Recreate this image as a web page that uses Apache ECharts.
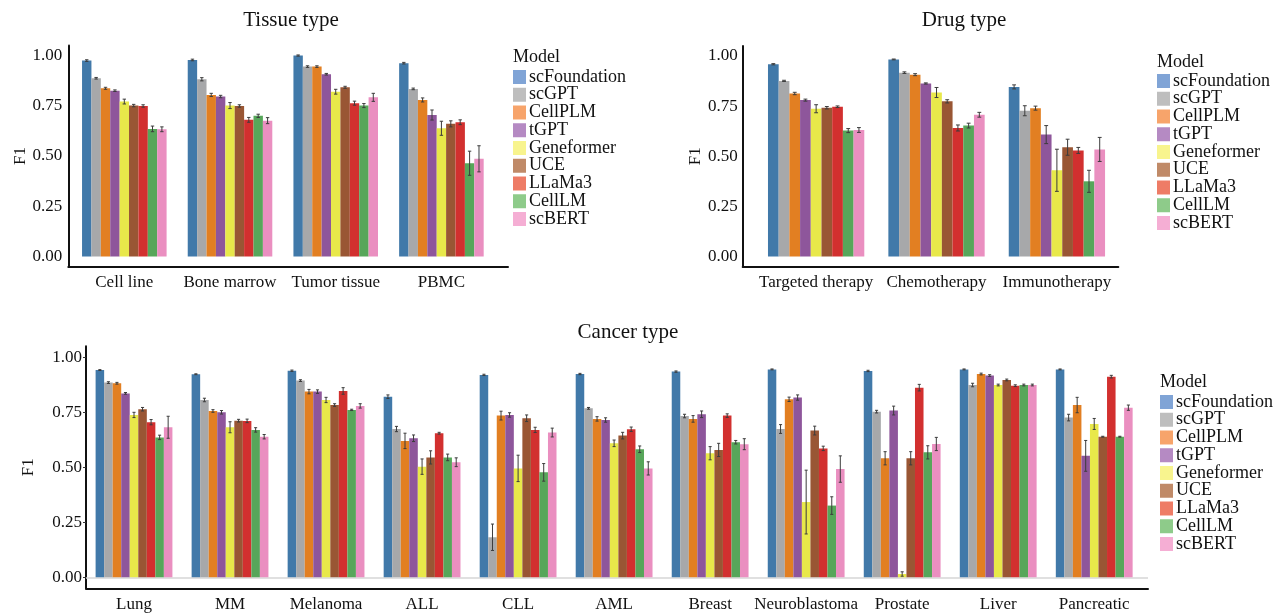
<!DOCTYPE html>
<html>
<head>
<meta charset="utf-8">
<script src="https://cdn.jsdelivr.net/npm/echarts@6/dist/echarts.min.js"></script>
<style>
html,body{margin:0;padding:0;background:#fff;}
#chart{width:1284px;height:616px;}
</style>
</head>
<body>
<div id="chart"></div>
<script>
// ---------- DATA ----------
const models = ['scFoundation','scGPT','CellPLM','tGPT','Geneformer','UCE','LLaMa3','CellLM','scBERT'];

const tissueCats = ['Cell line','Bone marrow','Tumor tissue','PBMC'];
const tissueF1 = [
  [0.975, 0.978, 1.000, 0.962],
  [0.887, 0.882, 0.945, 0.834],
  [0.837, 0.804, 0.945, 0.779],
  [0.825, 0.796, 0.907, 0.704],
  [0.771, 0.751, 0.820, 0.638],
  [0.751, 0.749, 0.842, 0.660],
  [0.749, 0.680, 0.763, 0.668],
  [0.635, 0.700, 0.751, 0.464],
  [0.633, 0.676, 0.792, 0.486]
];
const tissueSD = [
  [0.004, 0.004, 0.003, 0.004],
  [0.004, 0.008, 0.004, 0.004],
  [0.005, 0.008, 0.004, 0.010],
  [0.004, 0.006, 0.004, 0.025],
  [0.012, 0.015, 0.012, 0.035],
  [0.006, 0.006, 0.005, 0.015],
  [0.006, 0.012, 0.010, 0.012],
  [0.014, 0.008, 0.010, 0.060],
  [0.012, 0.015, 0.020, 0.065]
];

const drugCats = ['Targeted therapy','Chemotherapy','Immunotherapy'];
const drugF1 = [
  [0.959, 0.983, 0.846],
  [0.876, 0.917, 0.727],
  [0.813, 0.907, 0.740],
  [0.780, 0.863, 0.608],
  [0.737, 0.818, 0.430],
  [0.742, 0.774, 0.545],
  [0.747, 0.641, 0.529],
  [0.628, 0.653, 0.375],
  [0.631, 0.707, 0.534]
];
const drugSD = [
  [0.003, 0.002, 0.010],
  [0.003, 0.004, 0.025],
  [0.006, 0.005, 0.010],
  [0.005, 0.003, 0.045],
  [0.020, 0.025, 0.105],
  [0.006, 0.008, 0.040],
  [0.004, 0.015, 0.015],
  [0.010, 0.012, 0.055],
  [0.012, 0.012, 0.060]
];

const cancerCats = ['Lung','MM','Melanoma','ALL','CLL','AML','Breast','Neuroblastoma','Prostate','Liver','Pancreatic'];
const cancerF1 = [
  [0.942, 0.923, 0.939, 0.821, 0.920, 0.924, 0.935, 0.945, 0.938, 0.945, 0.945],
  [0.885, 0.806, 0.894, 0.674, 0.182, 0.768, 0.733, 0.674, 0.753, 0.874, 0.726],
  [0.882, 0.756, 0.844, 0.620, 0.735, 0.720, 0.720, 0.809, 0.541, 0.924, 0.783],
  [0.836, 0.750, 0.844, 0.632, 0.738, 0.715, 0.741, 0.817, 0.758, 0.917, 0.552],
  [0.738, 0.682, 0.806, 0.503, 0.495, 0.609, 0.564, 0.342, 0.015, 0.874, 0.697],
  [0.764, 0.712, 0.783, 0.545, 0.723, 0.644, 0.579, 0.667, 0.541, 0.897, 0.639],
  [0.705, 0.711, 0.847, 0.655, 0.670, 0.673, 0.735, 0.586, 0.862, 0.871, 0.912],
  [0.636, 0.670, 0.761, 0.545, 0.477, 0.582, 0.614, 0.326, 0.568, 0.874, 0.639],
  [0.682, 0.639, 0.779, 0.523, 0.658, 0.495, 0.605, 0.492, 0.606, 0.874, 0.771]
];
const cancerSD = [
  [0.002, 0.002, 0.003, 0.008, 0.003, 0.003, 0.003, 0.002, 0.003, 0.002, 0.002],
  [0.004, 0.008, 0.004, 0.012, 0.060, 0.004, 0.008, 0.020, 0.006, 0.008, 0.015],
  [0.004, 0.006, 0.010, 0.035, 0.020, 0.010, 0.015, 0.010, 0.030, 0.004, 0.035],
  [0.004, 0.008, 0.008, 0.015, 0.010, 0.010, 0.015, 0.012, 0.020, 0.004, 0.070],
  [0.012, 0.025, 0.012, 0.035, 0.060, 0.015, 0.030, 0.145, 0.010, 0.004, 0.025],
  [0.008, 0.006, 0.006, 0.030, 0.015, 0.015, 0.030, 0.020, 0.030, 0.004, 0.002],
  [0.012, 0.008, 0.015, 0.004, 0.012, 0.010, 0.008, 0.010, 0.015, 0.004, 0.006],
  [0.010, 0.010, 0.003, 0.015, 0.040, 0.015, 0.008, 0.040, 0.030, 0.004, 0.002],
  [0.050, 0.010, 0.010, 0.020, 0.020, 0.030, 0.025, 0.060, 0.030, 0.004, 0.012]
];

const yTicks = [0, 0.25, 0.5, 0.75, 1.0];

// ---------- STYLE ----------
const FONT = 'Liberation Serif';
const barColors = ['#4179a9','#a7a8aa','#e27f22','#8e569b','#e8e84a','#995634','#d2302f','#57a65a','#ea8fc0'];
const legendColors = ['#80a4d6','#bebebe','#f7a46b','#b58ac3','#f8f48e','#c08a68','#ee7c66','#8ecb8a','#f5aed4'];

const panels = [
  {title:'Tissue type', cats:tissueCats, vals:tissueF1, sd:tissueSD,
   grid:{left:68.3, top:45.5, width:439.7, height:221}, xMin:-0.53, xMax:3.63,
   ticks:false, nameGap:38, labelMargin:6, zeroLine:false,
   titlePos:[291,20], legendPos:[513,68], modelPos:[513,57]},
  {title:'Drug type', cats:drugCats, vals:drugF1, sd:drugSD,
   grid:{left:742.7, top:46, width:375.6, height:220.5}, xMin:-0.61, xMax:2.51,
   ticks:false, nameGap:37, labelMargin:5, zeroLine:false,
   titlePos:[964,20], legendPos:[1157,72], modelPos:[1157,62]},
  {title:'Cancer type', cats:cancerCats, vals:cancerF1, sd:cancerSD,
   grid:{left:86, top:346.3, width:1062, height:242}, xMin:-0.5, xMax:10.56,
   ticks:true, nameGap:49, labelMargin:4, zeroLine:true,
   titlePos:[628,332], legendPos:[1160,393], modelPos:[1160,382]}
];

const grids = [], xAxes = [], yAxes = [], series = [], legends = [], graphics = [];

panels.forEach((p, pi) => {
  grids.push(Object.assign({containLabel:false}, p.grid));
  xAxes.push({
    type:'value', gridIndex:pi, min:p.xMin, max:p.xMax,
    axisLine:{show:true, onZero:false, lineStyle:{color:'#111', width:2}},
    axisTick:{show:false},
    splitLine:{show:false},
    axisLabel:{customValues:p.cats.map((c,i)=>i), formatter:v=>p.cats[Math.round(v)],
               fontFamily:FONT, fontSize:17, color:'#111', margin:8}
  });
  yAxes.push({
    type:'value', gridIndex:pi, min:-0.05, max:1.05,
    name:'F1', nameLocation:'middle', nameGap:p.nameGap,
    nameTextStyle:{fontFamily:FONT, fontSize:17, color:'#111'},
    axisLine:{show:true, onZero:false, lineStyle:{color:'#111', width:2}},
    axisTick:{show:p.ticks, length:3, customValues:yTicks, lineStyle:{color:'#333'}},
    splitLine:{show:false},
    axisLabel:{customValues:yTicks, formatter:v=>v.toFixed(2),
               fontFamily:FONT, fontSize:17, color:'#111', margin:p.labelMargin}
  });
  models.forEach((m, k) => {
    const s = {
      type:'bar', name:m, xAxisIndex:pi, yAxisIndex:pi,
      barGap:'0%', barCategoryGap:'20%',
      itemStyle:{color:barColors[k]},
      data:p.cats.map((c,i)=>[i, p.vals[k][i]])
    };
    if (p.zeroLine && k === 0) {
      s.markLine = {silent:true, symbol:'none', label:{show:false},
        lineStyle:{color:'#d6d6d6', width:1.5, type:'solid'}, data:[{yAxis:0}], z:1};
    }
    series.push(s);
    series.push({
      type:'custom', name:m, xAxisIndex:pi, yAxisIndex:pi, z:5,
      data:p.cats.map((c,i)=>[i, p.vals[k][i], p.sd[k][i]]),
      encode:{x:0, y:1},
      renderItem:(params, api) => {
        const x = api.value(0), mu = api.value(1), sd = api.value(2);
        const c = api.coord([x, mu]);
        const band = api.size([1, 0])[0];
        const bw = band * 0.8 / models.length;
        const cx = c[0] + (k - (models.length - 1) / 2) * bw;
        const yLo = api.coord([x, mu - sd])[1];
        const yHi = api.coord([x, mu + sd])[1];
        const cap = Math.max(1.5, bw * 0.18);
        const st = {stroke:'#3c3c3c', lineWidth:1};
        return {type:'group', children:[
          {type:'line', shape:{x1:cx, y1:yLo, x2:cx, y2:yHi}, style:st},
          {type:'line', shape:{x1:cx-cap, y1:yLo, x2:cx+cap, y2:yLo}, style:st},
          {type:'line', shape:{x1:cx-cap, y1:yHi, x2:cx+cap, y2:yHi}, style:st}
        ]};
      }
    });
  });
  legends.push({
    orient:'vertical', left:p.legendPos[0], top:p.legendPos[1],
    icon:'rect', itemWidth:13, itemHeight:14, itemGap:-0.25, padding:0,
    selectedMode:false,
    textStyle:{fontFamily:FONT, fontSize:18, color:'#111', padding:[0,0,0,-2]},
    data:models.map((m,k)=>({name:m, itemStyle:{color:legendColors[k]}}))
  });
  graphics.push({type:'text', x:p.titlePos[0], y:p.titlePos[1],
    style:{text:p.title, font:`21px "${FONT}"`, fill:'#111', textAlign:'center', textVerticalAlign:'middle'}});
  graphics.push({type:'text', x:p.modelPos[0], y:p.modelPos[1],
    style:{text:'Model', font:`18px "${FONT}"`, fill:'#111', textAlign:'left', textVerticalAlign:'middle'}});
});

const chart = echarts.init(document.getElementById('chart'), null, {renderer:'canvas'});
chart.setOption({
  animation:false,
  backgroundColor:'#ffffff',
  grid:grids, xAxis:xAxes, yAxis:yAxes, legend:legends,
  series:series, graphic:graphics
});
</script>
</body>
</html>
